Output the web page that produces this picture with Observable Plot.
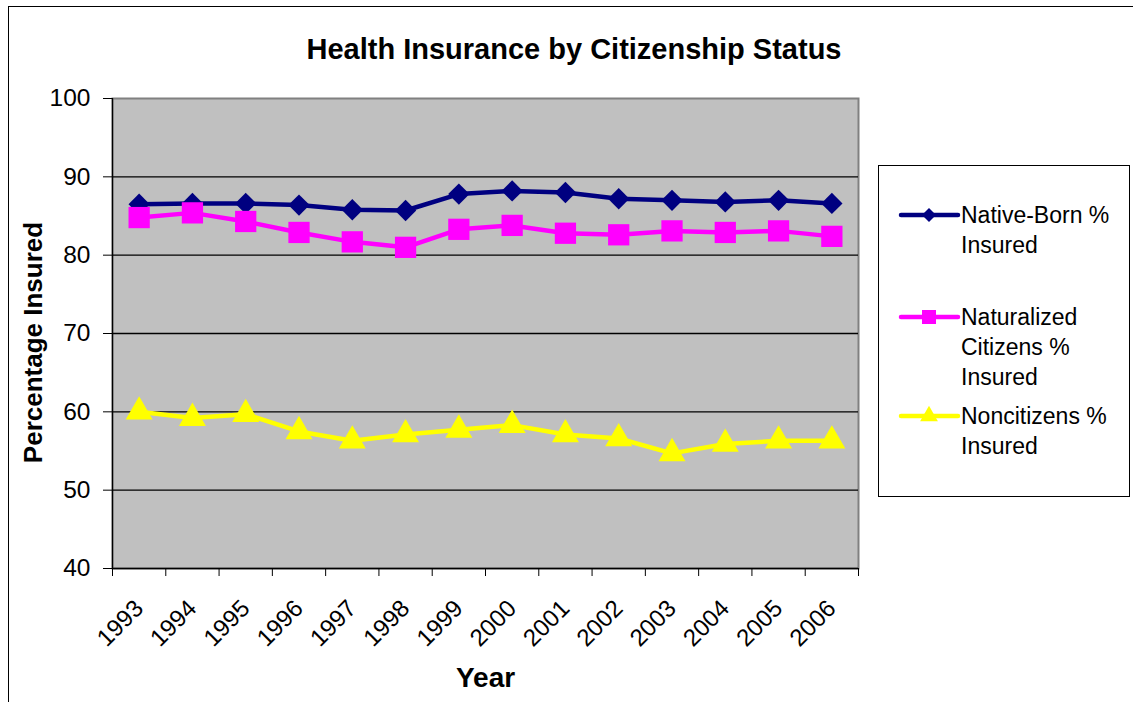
<!DOCTYPE html>
<html>
<head>
<meta charset="utf-8">
<script src="https://cdn.jsdelivr.net/npm/d3@7"></script>
<script src="https://cdn.jsdelivr.net/npm/@observablehq/plot@0.6"></script>
<style>
  html, body { margin: 0; padding: 0; background: #fff; }
  #wrap { position: relative; width: 1133px; height: 702px; overflow: hidden; font-family: "Liberation Sans", Arial, sans-serif; }
  #outer { position: absolute; left: 8px; top: 6px; width: 1140px; height: 720px; border: 1px solid #000; box-sizing: border-box; }
  #title { position: absolute; left: 0; width: 1148px; top: 33px; text-align: center; font-size: 29px; font-weight: bold; color: #000; }
  #chart { position: absolute; left: 0; top: 0; }
  #legend { position: absolute; left: 878px; top: 165px; width: 252px; height: 332px; border: 1px solid #000; box-sizing: border-box; background: #fff; }
</style>
</head>
<body>
<div id="wrap">
  <div id="outer"></div>
  <div id="chart"></div>
  <div id="title">Health Insurance by Citizenship Status</div>
  <div id="legend"></div>
</div>
<script>
const years = [1993, 1994, 1995, 1996, 1997, 1998, 1999, 2000, 2001, 2002, 2003, 2004, 2005, 2006];
const nativeBorn  = [86.5, 86.6, 86.6, 86.4, 85.8, 85.7, 87.8, 88.2, 88.0, 87.2, 87.0, 86.8, 87.0, 86.6];
const naturalized = [84.8, 85.4, 84.3, 82.9, 81.7, 81.0, 83.3, 83.8, 82.8, 82.6, 83.1, 82.9, 83.1, 82.4];
const noncitizens = [60.0, 59.2, 59.7, 57.5, 56.3, 57.1, 57.7, 58.3, 57.1, 56.6, 54.7, 55.9, 56.3, 56.3];
const yTicks = [40, 50, 60, 70, 80, 90, 100];
const gridValues = [50, 60, 70, 80, 90];
const seriesNames = ["Native-Born % Insured", "Naturalized Citizens % Insured", "Noncitizens % Insured"];
const seriesColors = ["#000080", "#FF00FF", "#FFFF00"];
const seriesSymbols = ["diamond2", "square", "triangle"];
const seriesR = [9.6, 12, 10];

const seriesValues = [nativeBorn, naturalized, noncitizens];
const boundaries = [...years.map(y => y - 0.5), years[years.length - 1] + 0.5];
const font = "Liberation Sans, Arial, sans-serif";

const marks = [
  Plot.frame({fill: "#C0C0C0", stroke: "#808080", strokeWidth: 2}),
  Plot.ruleY(gridValues, {stroke: "#000", strokeWidth: 1.3}),
  Plot.ruleX([boundaries[0]], {stroke: "#000", strokeWidth: 1.3}),
  Plot.ruleY([yTicks[0]], {stroke: "#000", strokeWidth: 1.3}),
  Plot.axisY({ticks: yTicks, tickSize: 9, tickPadding: 13, fontSize: 24.5, label: null, tickFormat: d => String(d)}),
  Plot.axisX({ticks: boundaries, tickSize: 8, tickFormat: () => "", label: null}),
  Plot.text(years, {x: d => d, text: d => String(d), frameAnchor: "bottom", rotate: -45, textAnchor: "end", lineAnchor: "middle", dy: 36, dx: 0, fontSize: 24}),
  Plot.text(["Year"], {frameAnchor: "bottom", dy: 118, fontSize: 28, fontWeight: "bold"}),
  Plot.text(["Percentage Insured"], {frameAnchor: "left", rotate: -90, textAnchor: "middle", dx: -79, dy: 9, fontSize: 26, fontWeight: "bold"})
];

seriesValues.forEach((vals, i) => {
  const data = years.map((yr, j) => ({year: yr, value: vals[j]}));
  marks.push(Plot.line(data, {x: "year", y: "value", stroke: seriesColors[i], strokeWidth: 4.5}));
});
seriesValues.forEach((vals, i) => {
  const data = years.map((yr, j) => ({year: yr, value: vals[j]}));
  marks.push(Plot.dot(data, {x: "year", y: "value", symbol: () => seriesSymbols[i], fill: seriesColors[i], r: seriesR[i], stroke: "none"}));
});

const chart = Plot.plot({
  width: 1133,
  height: 702,
  marginLeft: 112,
  marginRight: 275,
  marginTop: 98,
  marginBottom: 134,
  style: {fontFamily: font, fontSize: "24px", color: "#000", background: "transparent", overflow: "visible"},
  x: {type: "linear", domain: [boundaries[0], boundaries[boundaries.length - 1]], axis: null},
  y: {domain: [yTicks[0], yTicks[yTicks.length - 1]], axis: null},
  symbol: {type: "identity"},
  marks
});
document.getElementById("chart").appendChild(chart);

// Legend
const legendLines = [["Native-Born %", "Insured"], ["Naturalized", "Citizens %", "Insured"], ["Noncitizens %", "Insured"]];
const legendYs = [49, 151, 250];
const lsvg = d3.select("#legend").append("svg").attr("width", 250).attr("height", 330).style("font-family", font);
const symMap = {diamond2: d3.symbolDiamond2, square: d3.symbolSquare, triangle: d3.symbolTriangle};
legendLines.forEach((lines, i) => {
  const g = lsvg.append("g").attr("transform", `translate(0,${legendYs[i]})`);
  g.append("line").attr("x1", 22).attr("x2", 79).attr("y1", 0).attr("y2", 0).attr("stroke", seriesColors[i]).attr("stroke-width", 4.5).attr("stroke-linecap", "round");
  const rr = seriesR[i] * 0.66;
  g.append("path").attr("transform", "translate(50,0)").attr("d", d3.symbol(symMap[seriesSymbols[i]], Math.PI * rr * rr)()).attr("fill", seriesColors[i]);
  lines.forEach((t, k) => {
    g.append("text").attr("x", 82).attr("y", k * 30).attr("dy", "0.35em").attr("font-size", 23).attr("fill", "#000").text(t);
  });
});
</script>
</body>
</html>
